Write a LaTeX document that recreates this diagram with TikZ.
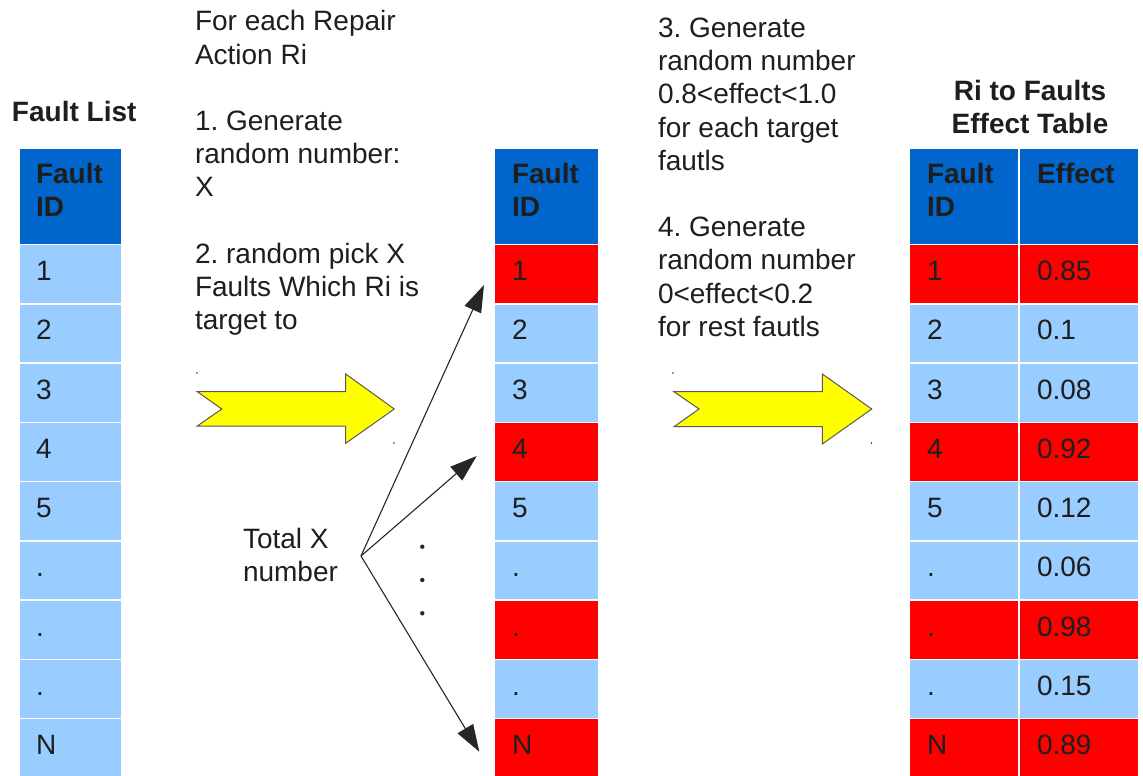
\documentclass[tikz,border=0pt]{standalone}
\usepackage{fontspec}
\setmainfont{Liberation Sans}
\usetikzlibrary{arrows.meta,calc}
\definecolor{hdrblue}{RGB}{0,102,204}
\definecolor{rowblue}{RGB}{153,204,255}
\definecolor{rowred}{RGB}{255,0,0}
\definecolor{ink}{RGB}{30,30,30}
\definecolor{arrowyellow}{RGB}{255,255,0}
\begin{document}
\frenchspacing
% Multi-line nodes below are placed by the baseline of their last line.
\begin{tikzpicture}[x=1pt,y=-1pt,
  every node/.style={font=\fontsize{28}{33.2}\selectfont, text=ink, inner sep=0pt, outer sep=0pt},
  cell/.style={draw=white, line width=1.5pt, anchor=north west, minimum height=59.25pt},
  hdr/.style={cell, fill=hdrblue, minimum height=96.5pt},
  celltext/.style={anchor=base west},
  hdrtext/.style={anchor=base west, align=left, font=\fontsize{28}{33.2}\selectfont\bfseries},
  para/.style={anchor=base west, align=left},
  pick/.style={draw=black!85, line width=1.1pt, -{Triangle[length=27pt,width=18pt]}},
  bigarrow/.style={fill=arrowyellow, draw=black!65, line width=1pt, line join=miter},
  speck/.style={fill=black!80}
]
\useasboundingbox (0,0) rectangle (1143,776);

% ---------- titles ----------
\node[anchor=base west, font=\fontsize{28}{33.2}\selectfont\bfseries] (listtitle) at (12,121) {Fault List};
\node[anchor=base, align=center, font=\fontsize{28}{33.2}\selectfont\bfseries] (efftitle) at (1030,133.2) {Ri to Faults\\Effect Table};

% ---------- header cells ----------
\node[hdr, minimum width=103pt] (Lh) at (19,148) {};
\node[hdr, minimum width=105pt] (Mh) at (494,148) {};
\node[hdr, minimum width=110pt] (Rh) at (909,148) {};
\node[hdr, minimum width=120pt] (Eh) at (1019,148) {};
\node[hdrtext] (Lht) at ($(Lh.north west)+(17,68.2)$) {Fault\\ID};
\node[hdrtext] (Mht) at ($(Mh.north west)+(18,68.2)$) {Fault\\ID};
\node[hdrtext] (Rht) at ($(Rh.north west)+(18,68.2)$) {Fault\\ID};
\node[hdrtext] (Eht) at ($(Eh.north west)+(18,35)$) {Effect};

% ---------- table rows ----------
\foreach \i/\lab/\mc/\eff in {1/1/rowred/0.85, 2/2/rowblue/0.1, 3/3/rowblue/0.08,
    4/4/rowred/0.92, 5/5/rowblue/0.12, 6/./rowblue/0.06, 7/./rowred/0.98,
    8/./rowblue/0.15, 9/N/rowred/0.89} {
  \pgfmathsetmacro\ytop{244.5+(\i-1)*59.25}
  \node[cell, fill=rowblue, minimum width=103pt] (L\i) at (19,\ytop) {};
  \node[cell, fill=\mc, minimum width=105pt] (M\i) at (494,\ytop) {};
  \node[cell, fill=\mc, minimum width=110pt] (R\i) at (909,\ytop) {};
  \node[cell, fill=\mc, minimum width=120pt] (E\i) at (1019,\ytop) {};
  \node[celltext] (L\i t) at ($(L\i.north west)+(17,36)$) {\lab};
  \node[celltext] (M\i t) at ($(M\i.north west)+(18,36)$) {\lab};
  \node[celltext] (R\i t) at ($(R\i.north west)+(18,36)$) {\lab};
  \node[celltext] (E\i t) at ($(E\i.north west)+(18,36)$) {\eff};
}

% ---------- step descriptions ----------
\node[para] (intro) at (195,64.2) {For each Repair\\Action Ri};
\node[para] (step1) at (195,196.4) {1. Generate\\random number:\\X};
\node[para] (step2) at (195,329.4) {2. random pick X\\Faults Which Ri is\\target to};
\node[para] (step3) at (658,170.3) {3. Generate\\random number\\0.8<effect<1.0\\for each target\\fautls};
\node[para] (step4) at (658,336.3) {4. Generate\\random number\\0<effect<0.2\\for rest fautls};
\node[para] (total) at (243,581.2) {Total X\\number};

% ---------- yellow block arrows ----------
\draw[bigarrow] (197.3,391.7) -- (345.7,391.7) -- (345.7,374) -- (394.3,409)
  -- (345.7,443.3) -- (345.7,426) -- (197.3,426) -- (221.7,409) -- cycle;
\draw[bigarrow] (674,391.7) -- (822.3,391.7) -- (822.3,374) -- (871.7,409)
  -- (822.3,444) -- (822.3,426.7) -- (674,426.7) -- (699,409) -- cycle;
\fill[speck] (197,373) circle (0.9);
\fill[speck] (394,443) circle (0.9);
\fill[speck] (673,373) circle (0.9);
\fill[speck] (871.5,443) circle (0.9);

% ---------- fan of picks ----------
\coordinate (fan) at (361,556);
\coordinate (tip1) at (484,285);
\coordinate (tip4) at (476.7,456);
\coordinate (tipN) at (479.3,751.7);
\draw[pick] (fan) -- (tip1);
\draw[pick] (fan) -- (tip4);
\draw[pick] (fan) -- (tipN);

% vertical ellipsis between the picks
\foreach \yy in {546.7,580,613.3}
  \fill[black!85] (422.3,\yy) circle (2.2);
\end{tikzpicture}
\end{document}
